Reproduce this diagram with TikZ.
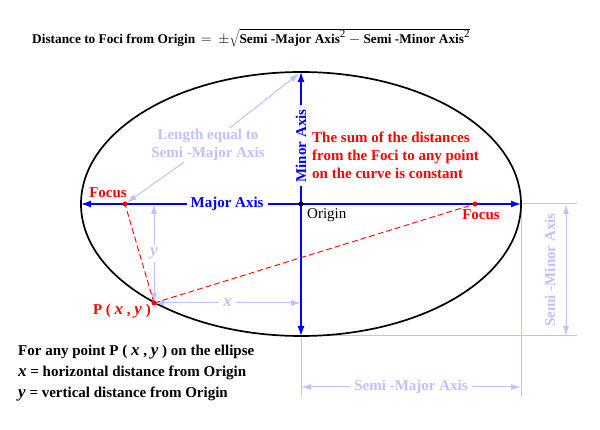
\documentclass[tikz,border=0pt]{standalone}
\usepackage{fontspec}
\setmainfont{Liberation Serif}
\usetikzlibrary{positioning,arrows.meta}
\definecolor{lav}{RGB}{192,192,255}
\newcommand{\var}[1]{{\fontsize{17}{17}\selectfont\textit{#1}}}
\newcommand{\sq}{\mbox{\fontsize{11}{11}\selectfont\mdseries 2}}
\begin{document}
\begin{tikzpicture}[x=1pt,y=-1pt,
  lbl/.style={font=\fontsize{15}{18}\selectfont\bfseries, inner sep=1pt},
  axis/.style={blue, line width=1.3pt, {Latex[length=10pt,width=7pt]}-{Latex[length=10pt,width=7pt]}},
  dim/.style={lav, line width=1pt, {Latex[length=10pt,width=6pt]}-{Latex[length=10pt,width=6pt]}},
  ext/.style={lav, line width=1pt},
  pointer/.style={lav, line width=1pt, shorten >=2pt, -{Latex[length=10pt,width=6pt]}},
  chord/.style={red, line width=0.9pt, dash pattern=on 6pt off 3pt}]

  \useasboundingbox (0,0) rectangle (600,430);

  % Points
  \coordinate (O) at (301,204);
  \coordinate (L) at (81,204);
  \coordinate (R) at (521,204);
  \coordinate (T) at (301,72);
  \coordinate (B) at (301,336);
  \coordinate (F1) at (125,204);
  \coordinate (F2) at (475,204);
  \coordinate (P) at (154,303);

  \coordinate (minA) at (577,204);
  \coordinate (minB) at (577,336);
  \coordinate (majA) at (301,397);
  \coordinate (majB) at (521,397);
  \coordinate (minTop) at (566,204);
  \coordinate (minBot) at (566,336);
  \coordinate (majL) at (301,387);
  \coordinate (majR) at (521,387);

  % Dimensions
  \draw[ext] (R) -- (minA);
  \draw[ext] (B) -- (minB);
  \draw[ext] (B) -- (majA);
  \draw[ext] (R) -- (majB);
  \draw[dim] (minTop) -- (minBot);
  \node[lbl, lav, rotate=90] (minlbl) at (550,270) {Semi -Minor Axis};
  \draw[dim] (majL) -- node[lbl, lav, midway, fill=white, inner xsep=4pt] (majlbl) {Semi -Major Axis} (majR);

  % Ellipse
  \draw[line width=1.7pt] (O) ellipse [x radius=220, y radius=132];

  % Axes
  \draw[axis] (L) -- node[lbl, pos=0.332, fill=white, inner xsep=4pt] (majax) {Major Axis} (R);
  \draw[axis] (T) -- node[lbl, pos=0.28, fill=white, rotate=90, inner xsep=4pt] (minax) {Minor Axis} (B);

  % x and y of P
  \coordinate (Py) at (P |- O);
  \coordinate (Px) at (O |- P);
  \draw[dim] (Py) -- node[lbl, midway, fill=white, inner ysep=3pt] (ylbl) {\var{y}} (P);
  \draw[dim] (P) -- node[lbl, midway, fill=white, inner xsep=4pt] (xlbl) {\var{x}} (Px);

  % Chords
  \draw[chord] (P) -- (F1);
  \draw[chord] (P) -- (F2);
  \fill[red] (F1) circle (2.5);
  \fill[red] (F2) circle (2.5);
  \fill[red] (P) circle (2.5);
  \fill (O) circle (2.5);

  % Labels
  \node[lbl, red, above left=5pt and -3pt of F1] (foc1) {Focus};
  \node[lbl, red, below=4pt of F2, xshift=6pt] (foc2) {Focus};
  \node[font=\fontsize{15}{18}\selectfont, inner sep=1pt, below right=3pt and 5pt of O] (orig) {Origin};
  \node[lbl, red, left=2pt of P, yshift=-8pt] (plbl) {P ( \var{x} , \var{y} )};

  \node[lbl, lav, align=center] (len) at (208,145) {Length equal to\\Semi -Major Axis};
  \draw[pointer] (len) -- (T);
  \draw[pointer] (len) -- (F1);

  \node[lbl, red, align=left, anchor=north west] (sum) at (311,131)
    {The sum of the distances\\from the Foci to any point\\on the curve is constant};

  \node[font=\fontsize{13.3}{16}\selectfont\bfseries, anchor=west, inner sep=0pt] (formula) at (32,38)
    {Distance to Foci from Origin $\,=\,\pm\sqrt{\mbox{Semi -Major Axis}^{\sq} - \mbox{Semi -Minor Axis}^{\sq}}$};

  \node[font=\fontsize{15}{21}\selectfont\bfseries, align=left, anchor=north west, inner sep=0pt] (note) at (18,345)
    {For any point P ( \var{x} , \var{y} ) on the ellipse\\
     \var{x} = horizontal distance from Origin\\
     \var{y} = vertical distance from Origin};
\end{tikzpicture}
\end{document}
